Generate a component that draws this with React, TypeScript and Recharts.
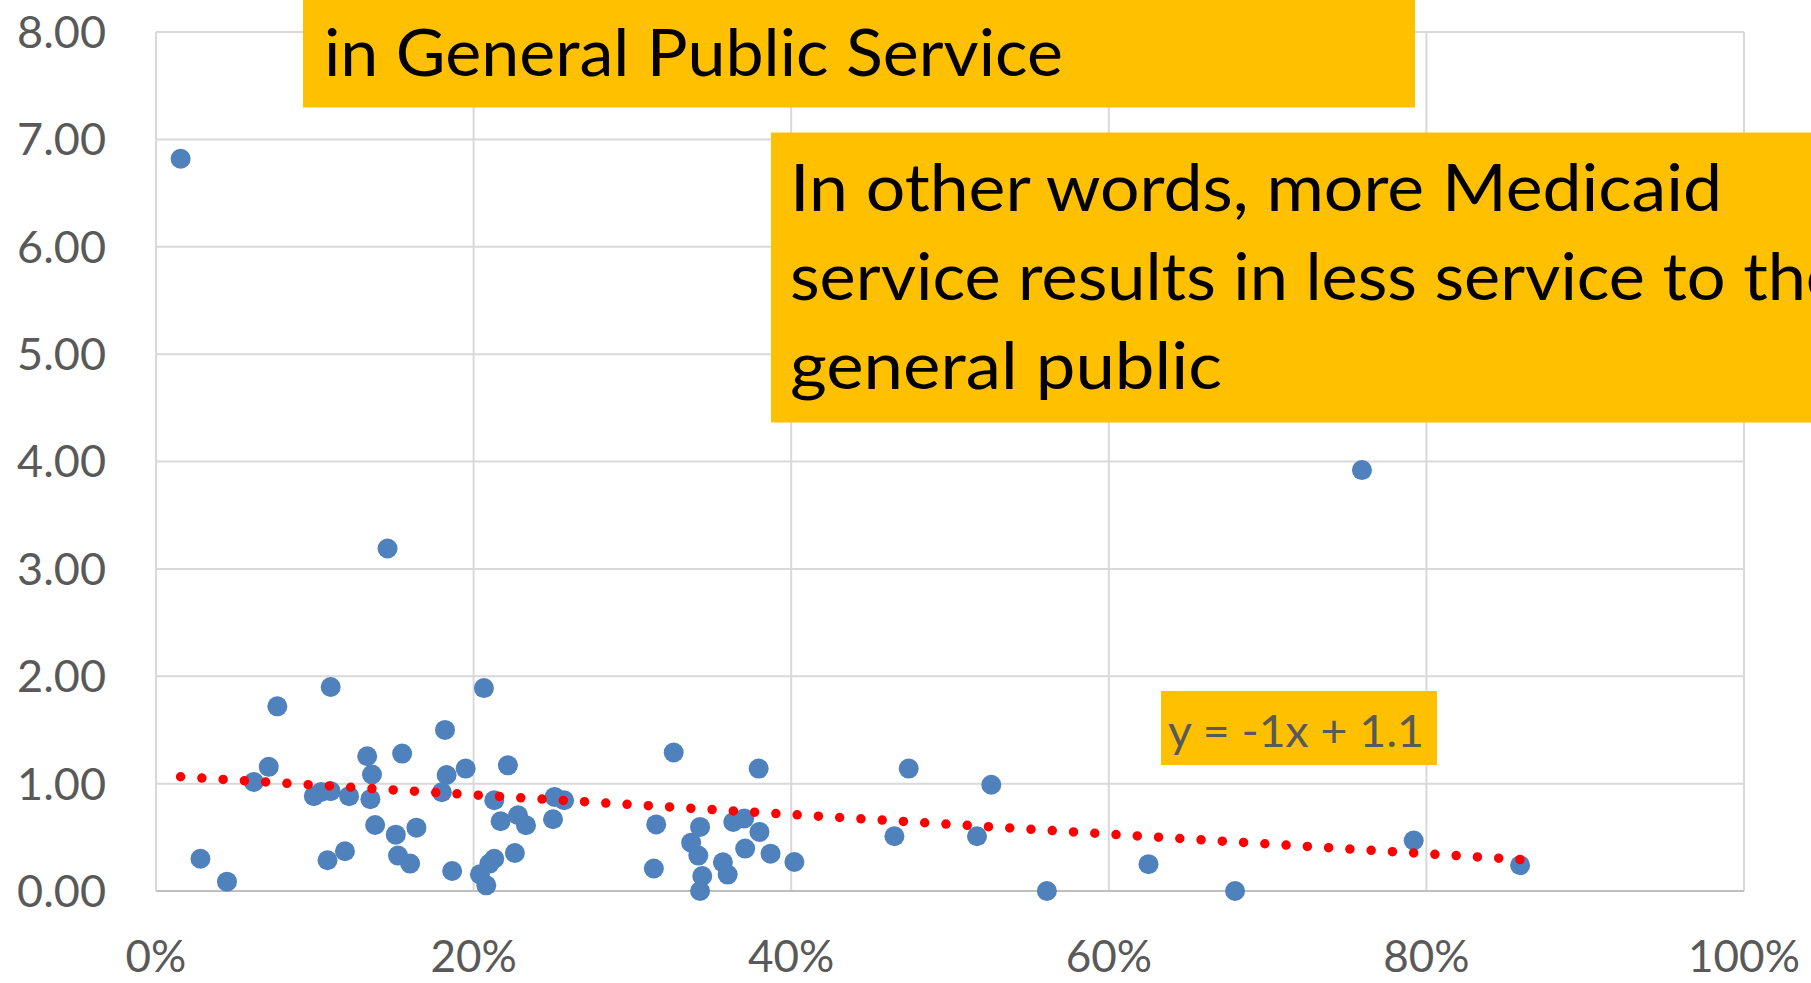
import React from "react";
import { ScatterChart, Scatter, XAxis, YAxis, CartesianGrid } from "recharts";

// Share of Medicaid service (x) per observation
const medicaidShare = [
  0.0155, 0.028, 0.0447, 0.0616, 0.071, 0.0764, 0.0994, 0.104, 0.11, 0.11,
  0.108, 0.119, 0.1216, 0.133, 0.136, 0.135, 0.138, 0.1458, 0.151, 0.155,
  0.1524, 0.16, 0.164, 0.182, 0.183, 0.18, 0.1865, 0.195, 0.2065, 0.204,
  0.208, 0.21, 0.213, 0.213, 0.217, 0.2216, 0.228, 0.226, 0.233, 0.25,
  0.251, 0.257, 0.3135, 0.315, 0.326, 0.337, 0.3415, 0.3426, 0.344, 0.3426,
  0.357, 0.36, 0.3635, 0.3704, 0.371, 0.38, 0.3795, 0.387, 0.402, 0.465,
  0.474, 0.517, 0.526, 0.561, 0.625, 0.6795, 0.7594, 0.792, 0.859,
];
// General public service value (y) per observation
const publicService = [
  6.82, 0.3, 0.087, 1.016, 1.156, 1.72, 0.883, 0.923, 0.93, 1.9,
  0.286, 0.37, 0.883, 1.255, 1.085, 0.855, 0.615, 3.19, 0.525, 1.28,
  0.33, 0.255, 0.59, 1.5, 1.08, 0.92, 0.186, 1.14, 1.89, 0.155,
  0.053, 0.255, 0.3, 0.845, 0.65, 1.17, 0.705, 0.354, 0.612, 0.668,
  0.876, 0.845, 0.21, 0.62, 1.29, 0.45, 0.33, 0.597, 0.14, 0.0,
  0.267, 0.153, 0.643, 0.675, 0.395, 0.55, 1.14, 0.348, 0.27, 0.51,
  1.14, 0.51, 0.99, 0.0, 0.25, 0.0, 3.92, 0.47, 0.24,
];
// Linear trendline end points
const trendX = [0.0155, 0.859];
const trendY = [1.064, 0.293];

const xTicks = [0, 0.2, 0.4, 0.6, 0.8, 1];
const yTicks = [0, 1, 2, 3, 4, 5, 6, 7, 8];

const equationLabel = "y = -1x + 1.1";
const topNote = "in General Public Service";
const sideNote = [
  "In other words, more Medicaid",
  "service results in less service to the",
  "general public",
];

const points = medicaidShare.map((x, i) => ({ x, y: publicService[i] }));
const trend = trendX.map((x, i) => ({ x, y: trendY[i] }));

const FONT = "Lato, 'Open Sans', sans-serif";
const yTickStyle = { fill: "#595959", fontSize: 45, fontFamily: FONT };
const xTickStyle = { fill: "#595959", fontSize: 44, fontFamily: FONT };

const Dot = (props: any) =>
  props.cx == null ? <g /> : <circle cx={props.cx} cy={props.cy} r={10} fill="#4f81bd" />;
const NoShape = () => <g />;

export default function App() {
  return (
    <div
      style={{
        position: "absolute",
        left: 0,
        top: 0,
        width: 1811,
        height: 983,
        overflow: "hidden",
        background: "#ffffff",
      }}
    >
      <ScatterChart
        width={1811}
        height={983}
        margin={{ top: 32, right: 67, bottom: 32, left: 0 }}
      >
        <CartesianGrid stroke="#d9d9d9" strokeWidth={2} />
        <XAxis
          type="number"
          dataKey="x"
          domain={[0, 1]}
          ticks={xTicks}
          tickFormatter={(v: number) => `${Math.round(v * 100)}%`}
          height={60}
          stroke="#bfbfbf"
          strokeWidth={2}
          tickLine={false}
          tickSize={6}
          tickMargin={44}
          tick={xTickStyle}
          interval={0}
        />
        <YAxis
          type="number"
          dataKey="y"
          domain={[0, 8]}
          ticks={yTicks}
          tickFormatter={(v: number) => v.toFixed(2)}
          width={156}
          stroke="#d9d9d9"
          strokeWidth={2}
          tickLine={false}
          tickSize={6}
          tickMargin={44}
          tick={yTickStyle}
          interval={0}
        />
        <Scatter data={points} shape={Dot} isAnimationActive={false} />
        <Scatter
          data={trend}
          shape={NoShape}
          line={{
            stroke: "#ff0000",
            strokeWidth: 9.5,
            strokeDasharray: "0 21.3",
            strokeLinecap: "round",
          }}
          isAnimationActive={false}
        />
      </ScatterChart>
      <svg
        width={1811}
        height={983}
        style={{ position: "absolute", left: 0, top: 0, pointerEvents: "none" }}
      >
        <rect x={303} y={0} width={1112} height={107.5} fill="#ffc000" />
        <text
          x={324}
          y={76}
          fontFamily={FONT}
          fontSize={66}
          fill="#000000"
          textLength={739}
          lengthAdjust="spacingAndGlyphs"
        >
          {topNote}
        </text>
        <rect x={771} y={132.5} width={1060} height={290} fill="#ffc000" />
        {sideNote.map((line, i) => (
          <text
            key={i}
            x={790}
            y={211 + i * 89}
            fontFamily={FONT}
            fontSize={66}
            fill="#000000"
            textLength={[932, 1052, 432][i]}
            lengthAdjust="spacingAndGlyphs"
          >
            {line}
          </text>
        ))}
        <rect x={1161} y={691} width={276} height={74} fill="#ffc000" />
        <text
          x={1168}
          y={747}
          fontFamily={FONT}
          fontSize={45}
          fill="#595959"
          textLength={256}
          lengthAdjust="spacingAndGlyphs"
        >
          {equationLabel}
        </text>
      </svg>
    </div>
  );
}
